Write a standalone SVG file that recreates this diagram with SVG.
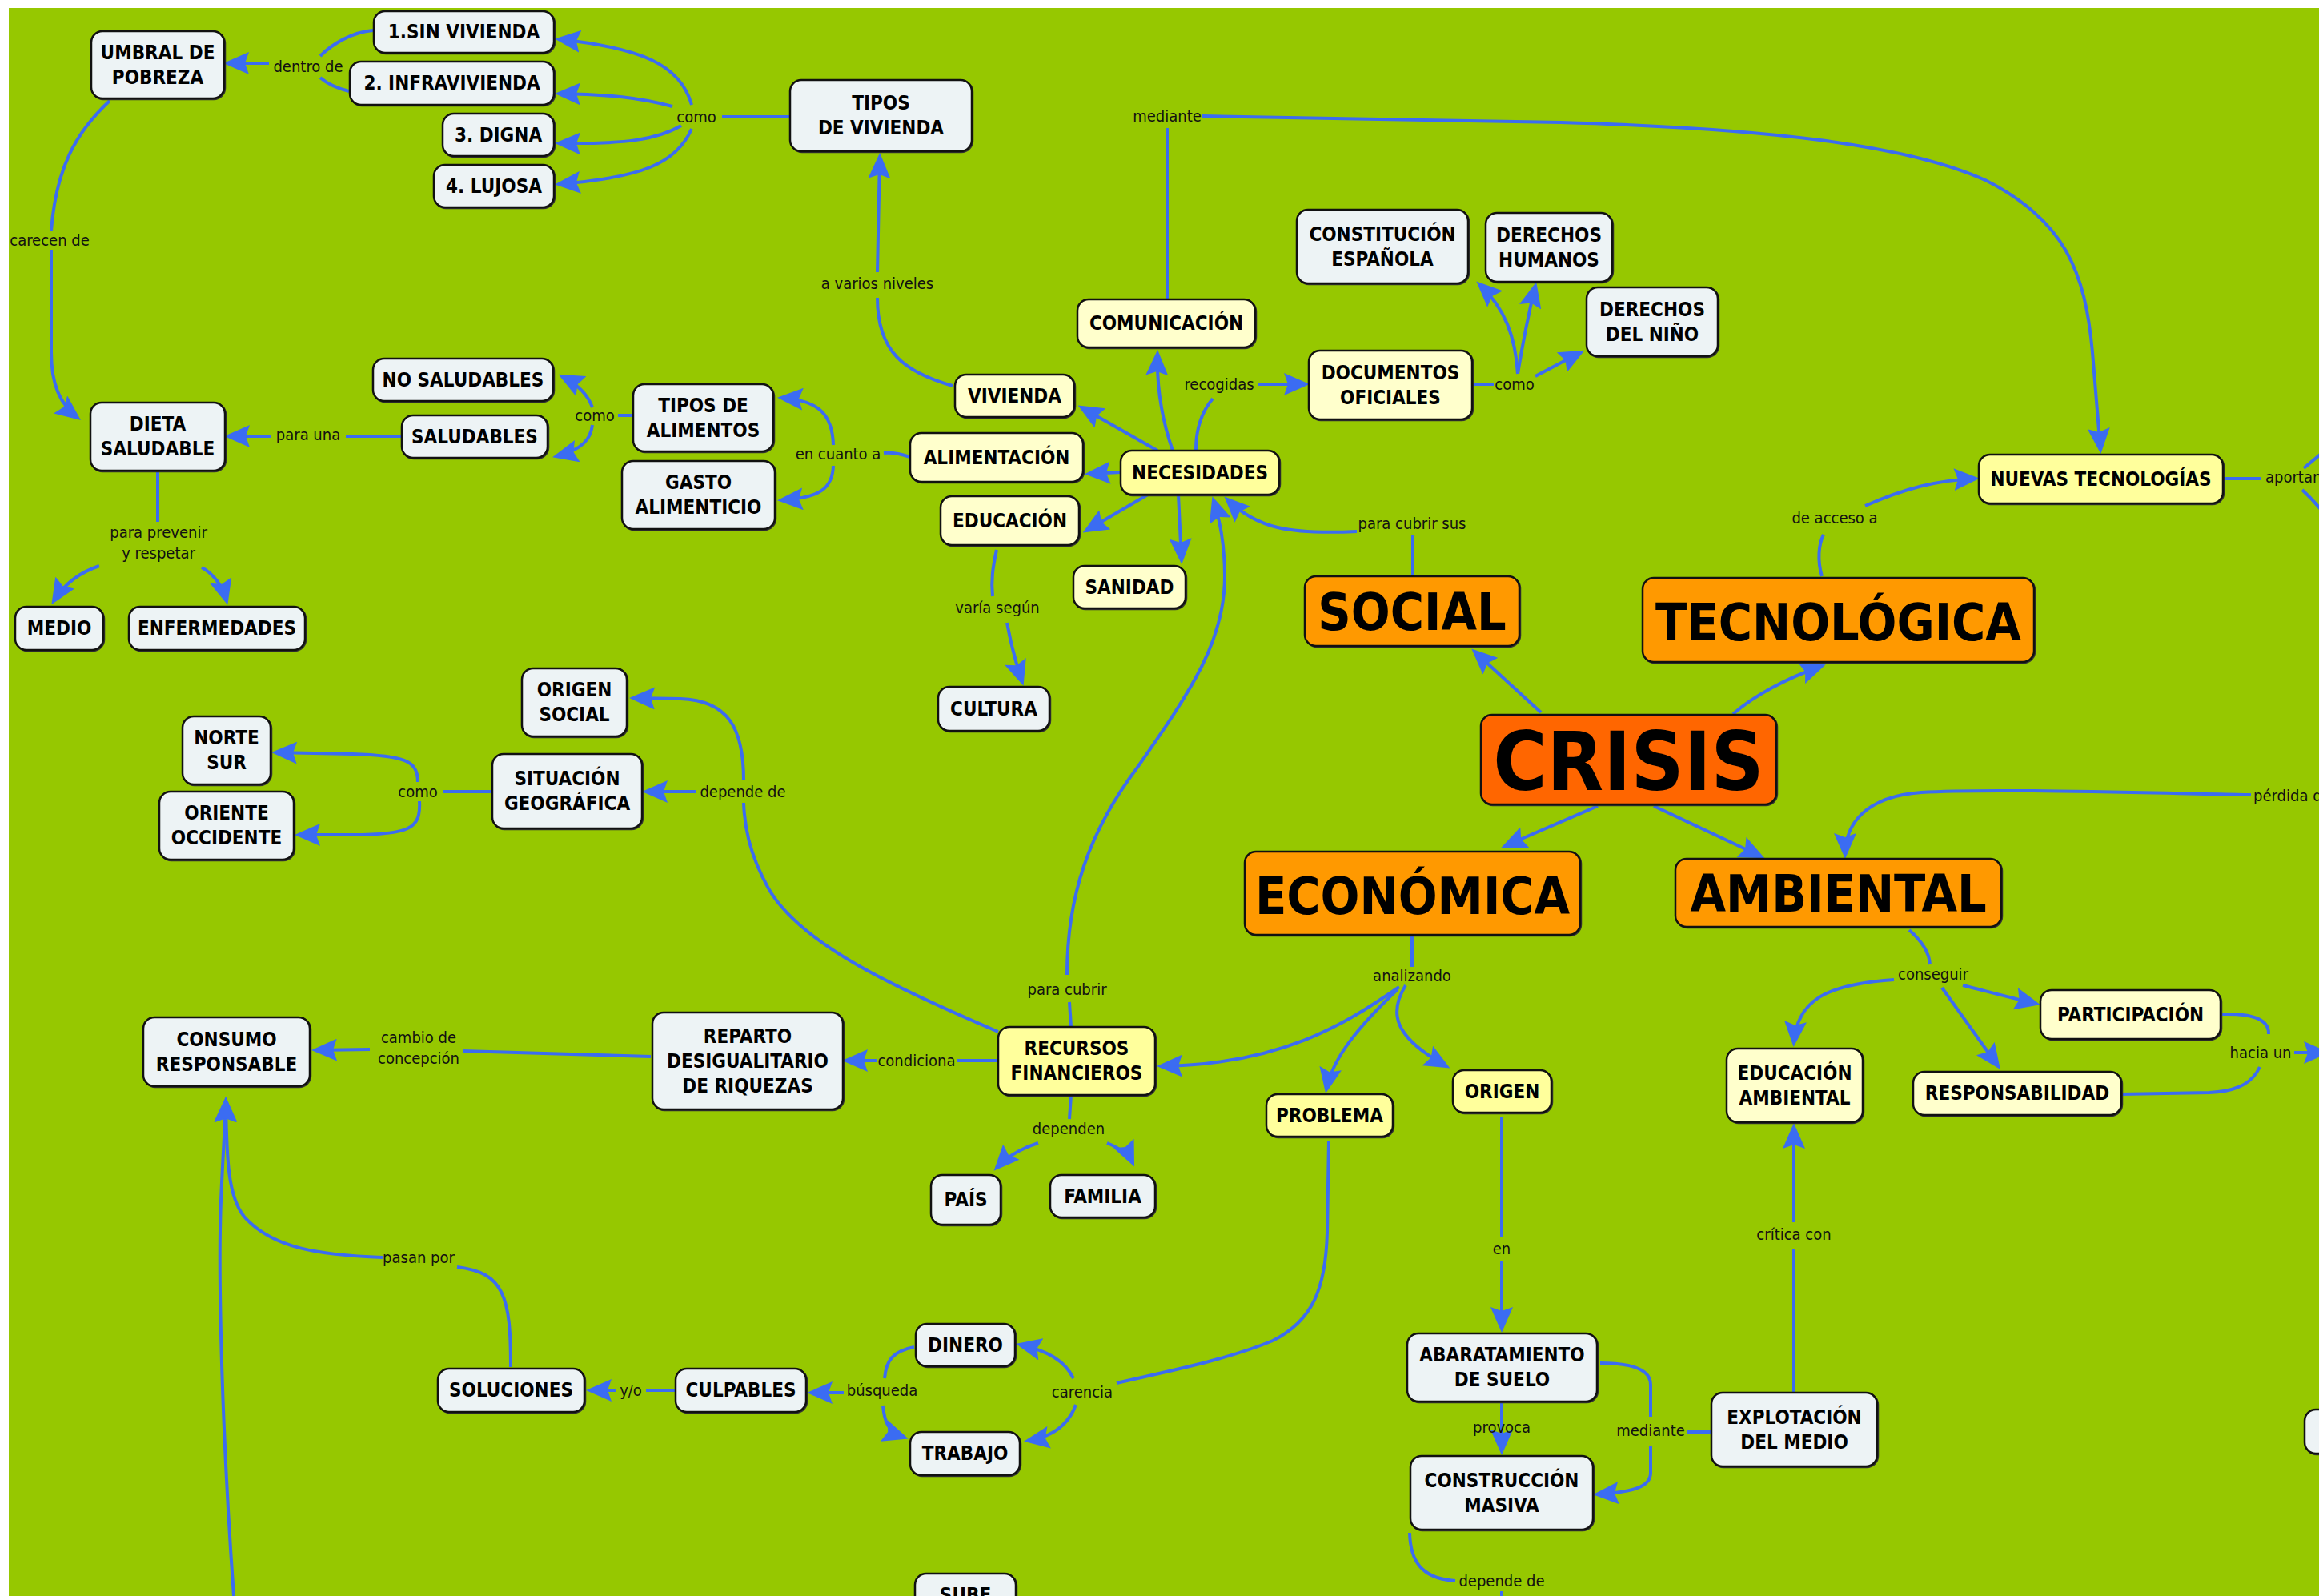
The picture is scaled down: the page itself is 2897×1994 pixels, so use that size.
<svg xmlns="http://www.w3.org/2000/svg" width="2897" height="1994" viewBox="0 0 2897 1994">
<defs>
<marker id="ah" markerUnits="userSpaceOnUse" markerWidth="32" markerHeight="28" viewBox="0 0 32 28" refX="27" refY="14" orient="auto">
<path d="M0,0 L32,14 L0,28 L5,14 z" fill="#3b6cf2"/>
</marker>
<style>
.c{fill:none;stroke:#3b6cf2;stroke-width:4;stroke-linecap:butt}
.a{marker-end:url(#ah)}
.b{stroke:#111;stroke-width:2.5;filter:drop-shadow(1px 1.5px 0 #333)}
.g{fill:#edf3f5}
.y{fill:#ffffcc}
.yy{fill:#ffff9c}
.o{fill:#ff9900}
.r{fill:#ff6600}
.t{font-family:"DejaVu Sans Condensed","DejaVu Sans",sans-serif;font-stretch:condensed;font-weight:bold;font-size:24px;text-anchor:middle;dominant-baseline:central;fill:#000}
.big{font-size:64px}
.huge{font-size:102px}
.l{font-family:"DejaVu Sans Condensed","DejaVu Sans",sans-serif;font-stretch:condensed;font-size:20px;text-anchor:middle;dominant-baseline:central;fill:#111}
.ls{text-anchor:start}
</style>
</defs>
<rect x="0" y="0" width="2897" height="1994" fill="#ffffff"/>
<rect x="11" y="10" width="2886" height="1984" fill="#96c800"/>

<g id="connectors">
<!-- dentro de -->
<path class="c" d="M466,38 C440,40 415,55 400,70"/>
<path class="c" d="M436,114 C420,110 408,104 400,97"/>
<path class="c a" d="M336,79 L284,79"/>
<!-- como (tipos de vivienda) -->
<path class="c" d="M987,146 L902,146"/>
<path class="c a" d="M864,131 C850,80 800,60 698,49"/>
<path class="c a" d="M840,133 C800,122 760,118 698,117"/>
<path class="c a" d="M851,157 C820,175 780,180 698,179"/>
<path class="c a" d="M864,161 C845,205 800,222 698,230"/>
<!-- carecen de -->
<path class="c" d="M137,126 C95,165 70,210 64,288"/>
<path class="c a" d="M64,312 L64,440 C64,480 75,505 97,522"/>
<!-- para una -->
<path class="c" d="M502,545 L432,545"/>
<path class="c a" d="M338,545 L285,545"/>
<!-- como (alimentos) -->
<path class="c" d="M791,519 L772,519"/>
<path class="c a" d="M740,509 C735,495 725,482 702,470"/>
<path class="c a" d="M740,531 C738,548 728,562 695,570"/>
<!-- para prevenir y respetar -->
<path class="c" d="M197,590 L197,652"/>
<path class="c a" d="M124,707 C100,715 80,730 67,751"/>
<path class="c a" d="M252,709 C268,718 278,733 283,751"/>
<!-- a varios niveles -->
<path class="c" d="M1190,482 C1130,465 1096,440 1096,372"/>
<path class="c a" d="M1096,340 L1099,196"/>
<!-- en cuanto a -->
<path class="c" d="M1137,571 C1125,567 1115,565 1104,566"/>
<path class="c a" d="M1041,556 C1040,520 1025,500 976,497"/>
<path class="c a" d="M1041,582 C1040,610 1025,622 976,625"/>
<!-- necesidades -->
<path class="c a" d="M1446,563 L1351,509"/>
<path class="c a" d="M1400,590 L1360,592"/>
<path class="c a" d="M1434,618 L1357,663"/>
<path class="c a" d="M1465,563 C1450,520 1445,480 1446,442"/>
<path class="c a" d="M1472,618 L1476,700"/>
<path class="c" d="M1494,562 C1494,530 1505,510 1515,498"/>
<path class="c a" d="M1571,480 L1631,480"/>
<!-- como (documentos) -->
<path class="c" d="M1839,480 L1866,480"/>
<path class="c a" d="M1896,467 C1893,420 1880,385 1848,355"/>
<path class="c a" d="M1896,467 C1902,430 1910,390 1918,357"/>
<path class="c a" d="M1918,470 L1975,440"/>
<!-- mediante (comunicación) -->
<path class="c" d="M1458,374 L1458,160"/>
<path class="c a" d="M1502,145 L1950,153 C2200,160 2380,180 2480,225 C2580,275 2605,340 2614,440 L2624,562"/>
<!-- para cubrir sus -->
<path class="c" d="M1765,720 L1765,668"/>
<path class="c a" d="M1695,664 C1610,668 1570,660 1533,624"/>
<!-- varía según -->
<path class="c" d="M1245,687 C1240,710 1238,725 1240,745"/>
<path class="c a" d="M1258,778 C1262,800 1268,825 1277,852"/>
<!-- para cubrir -->
<path class="c" d="M1338,1283 L1336,1252"/>
<path class="c a" d="M1333,1218 C1333,1120 1360,1040 1420,960 C1490,860 1530,800 1530,720 C1530,680 1524,650 1516,625"/>
<!-- crisis -->
<path class="c a" d="M1925,890 L1842,814"/>
<path class="c a" d="M2165,892 C2190,870 2230,848 2276,832"/>
<path class="c a" d="M1996,1007 L1880,1057"/>
<path class="c a" d="M2066,1007 L2200,1070"/>
<!-- de acceso a -->
<path class="c" d="M2276,720 C2270,700 2272,680 2278,668"/>
<path class="c a" d="M2330,632 C2380,610 2420,600 2468,598"/>
<!-- aportan -->
<path class="c" d="M2777,598 L2824,598"/>
<path class="c" d="M2878,585 Q2890,575 2902,565"/>
<path class="c" d="M2876,612 Q2890,625 2902,640"/>
<!-- pérdida de -->
<path class="c a" d="M2812,993 C2650,990 2480,985 2400,990 C2330,995 2305,1030 2305,1068"/>
<!-- conseguir -->
<path class="c" d="M2385,1162 C2400,1175 2410,1190 2411,1205"/>
<path class="c a" d="M2366,1224 C2280,1230 2245,1250 2241,1303"/>
<path class="c a" d="M2452,1231 C2480,1238 2510,1246 2544,1254"/>
<path class="c a" d="M2426,1234 L2496,1332"/>
<!-- hacia un -->
<path class="c" d="M2776,1267 C2810,1266 2835,1272 2834,1292"/>
<path class="c" d="M2650,1367 L2760,1365 C2800,1363 2815,1350 2823,1333"/>
<path class="c a" d="M2866,1315 L2905,1315"/>
<!-- crítica con -->
<path class="c" d="M2241,1740 L2241,1560"/>
<path class="c a" d="M2241,1527 L2241,1408"/>
<!-- mediante (explotación) -->
<path class="c" d="M2138,1789 L2108,1789"/>
<path class="c" d="M2062,1770 L2062,1730 C2062,1712 2040,1703 1999,1703"/>
<path class="c a" d="M2062,1806 L2062,1840 C2062,1858 2040,1864 1995,1867"/>
<!-- analizando -->
<path class="c" d="M1764,1168 L1764,1208"/>
<path class="c a" d="M1748,1233 C1680,1280 1600,1330 1450,1332"/>
<path class="c a" d="M1746,1236 C1700,1280 1665,1320 1657,1361"/>
<path class="c a" d="M1756,1231 C1735,1265 1740,1295 1807,1332"/>
<!-- condiciona -->
<path class="c" d="M1247,1325 L1196,1325"/>
<path class="c a" d="M1096,1325 L1057,1325"/>
<!-- cambio de concepción -->
<path class="c" d="M813,1320 L578,1313"/>
<path class="c a" d="M462,1311 L394,1312"/>
<!-- depende de (recursos) -->
<path class="c" d="M1247,1289 C1120,1235 1000,1180 960,1110 C935,1065 930,1030 929,1003"/>
<path class="c a" d="M929,975 C929,910 910,875 850,873 L791,872"/>
<path class="c a" d="M870,989 L807,989"/>
<!-- como (situación) -->
<path class="c" d="M615,989 L553,989"/>
<path class="c a" d="M522,977 C522,950 505,944 440,942 L344,940"/>
<path class="c a" d="M524,1001 C526,1035 512,1043 440,1043 L373,1043"/>
<!-- dependen -->
<path class="c" d="M1338,1368 L1336,1398"/>
<path class="c a" d="M1297,1428 C1275,1435 1258,1445 1245,1459"/>
<path class="c a" d="M1383,1428 C1398,1434 1410,1442 1415,1453"/>
<!-- en -->
<path class="c" d="M1876,1395 L1876,1545"/>
<path class="c a" d="M1876,1575 L1876,1660"/>
<!-- provoca -->
<path class="c a" d="M1876,1753 L1876,1813"/>
<!-- depende de (construcción) -->
<path class="c" d="M1761,1915 C1762,1950 1775,1972 1818,1975"/>
<path class="c" d="M1876,1988 L1876,2000"/>
<!-- carencia -->
<path class="c" d="M1660,1426 L1658,1540 C1656,1610 1640,1650 1590,1675 C1530,1700 1450,1715 1395,1728"/>
<path class="c a" d="M1341,1722 C1330,1700 1310,1688 1274,1680"/>
<path class="c a" d="M1344,1755 C1335,1780 1315,1795 1284,1800"/>
<!-- búsqueda -->
<path class="c" d="M1142,1683 C1115,1688 1107,1700 1105,1722"/>
<path class="c a" d="M1103,1756 C1105,1780 1112,1790 1130,1796"/>
<path class="c a" d="M1054,1740 L1013,1740"/>
<!-- y/o -->
<path class="c" d="M843,1737 L807,1737"/>
<path class="c a" d="M770,1737 L737,1737"/>
<!-- pasan por -->
<path class="c" d="M638,1708 C638,1620 630,1590 571,1583"/>
<path class="c a" d="M478,1571 C400,1568 340,1560 305,1520 C285,1495 283,1450 282,1375"/>
<path class="c a" d="M292,1994 C278,1800 272,1600 276,1500 C278,1450 281,1410 282,1375"/>
</g>

<g id="link-labels">
<text class="l" x="385" y="83">dentro de</text>
<text class="l" x="870" y="146">como</text>
<text class="l" x="62" y="300">carecen de</text>
<text class="l" x="385" y="543">para una</text>
<text class="l" x="743" y="519">como</text>
<text class="l" x="198" y="665">para prevenir</text>
<text class="l" x="198" y="691">y respetar</text>
<text class="l" x="1096" y="354">a varios niveles</text>
<text class="l" x="1458" y="145">mediante</text>
<text class="l" x="1047" y="567">en cuanto a</text>
<text class="l" x="1523" y="480">recogidas</text>
<text class="l" x="1892" y="480">como</text>
<text class="l" x="1764" y="654">para cubrir sus</text>
<text class="l" x="1246" y="759">varía según</text>
<text class="l" x="1333" y="1236">para cubrir</text>
<text class="l" x="2292" y="647">de acceso a</text>
<text class="l ls" x="2830" y="596">aportan</text>
<text class="l ls" x="2815" y="994">pérdida de</text>
<text class="l" x="2415" y="1217">conseguir</text>
<text class="l" x="2824" y="1315">hacia un</text>
<text class="l" x="2241" y="1542">crítica con</text>
<text class="l" x="2062" y="1787">mediante</text>
<text class="l" x="1764" y="1219">analizando</text>
<text class="l" x="1145" y="1325">condiciona</text>
<text class="l" x="523" y="1296">cambio de</text>
<text class="l" x="523" y="1322">concepción</text>
<text class="l" x="928" y="989">depende de</text>
<text class="l" x="522" y="989">como</text>
<text class="l" x="1335" y="1410">dependen</text>
<text class="l" x="1876" y="1560">en</text>
<text class="l" x="1876" y="1783">provoca</text>
<text class="l" x="1876" y="1975">depende de</text>
<text class="l" x="1352" y="1739">carencia</text>
<text class="l" x="1102" y="1737">búsqueda</text>
<text class="l" x="788" y="1737">y/o</text>
<text class="l" x="523" y="1571">pasan por</text>
</g>

<g id="umbral"><rect class="b g" x="114" y="39" width="166" height="84" rx="14"/><text class="t" x="197"><tspan x="197" y="65.5">UMBRAL DE</tspan><tspan x="197" y="96.5">POBREZA</tspan></text></g>
<g id="sin-vivienda"><rect class="b g" x="467" y="14" width="225" height="52" rx="14"/><text class="t" x="579.5" y="40">1.SIN VIVIENDA</text></g>
<g id="infravivienda"><rect class="b g" x="437" y="77" width="255" height="54" rx="14"/><text class="t" x="564.5" y="104">2. INFRAVIVIENDA</text></g>
<g id="digna"><rect class="b g" x="553" y="142" width="139" height="53" rx="14"/><text class="t" x="622.5" y="168.5">3. DIGNA</text></g>
<g id="lujosa"><rect class="b g" x="542" y="206" width="150" height="53" rx="14"/><text class="t" x="617" y="232.5">4. LUJOSA</text></g>
<g id="tipos-vivienda"><rect class="b g" x="987" y="100" width="227" height="89" rx="14"/><text class="t"><tspan x="1100.5" y="129">TIPOS</tspan><tspan x="1100.5" y="160">DE VIVIENDA</tspan></text></g>
<g id="comunicacion"><rect class="b y" x="1346" y="374" width="222" height="60" rx="14"/><text class="t" x="1457" y="404">COMUNICACIÓN</text></g>
<g id="constitucion"><rect class="b g" x="1620" y="262" width="214" height="92" rx="14"/><text class="t"><tspan x="1727" y="292.5">CONSTITUCIÓN</tspan><tspan x="1727" y="323.5">ESPAÑOLA</tspan></text></g>
<g id="derechos-humanos"><rect class="b g" x="1856" y="266" width="158" height="86" rx="14"/><text class="t"><tspan x="1935" y="293.5">DERECHOS</tspan><tspan x="1935" y="324.5">HUMANOS</tspan></text></g>
<g id="derechos-nino"><rect class="b g" x="1982" y="359" width="164" height="86" rx="14"/><text class="t"><tspan x="2064" y="386.5">DERECHOS</tspan><tspan x="2064" y="417.5">DEL NIÑO</tspan></text></g>
<g id="documentos"><rect class="b y" x="1635" y="438" width="204" height="86" rx="14"/><text class="t"><tspan x="1737" y="465.5">DOCUMENTOS</tspan><tspan x="1737" y="496.5">OFICIALES</tspan></text></g>
<g id="vivienda"><rect class="b y" x="1193" y="468" width="149" height="53" rx="14"/><text class="t" x="1267.5" y="494.5">VIVIENDA</text></g>
<g id="alimentacion"><rect class="b y" x="1137" y="541" width="216" height="61" rx="14"/><text class="t" x="1245" y="571.5">ALIMENTACIÓN</text></g>
<g id="necesidades"><rect class="b yy" x="1400" y="563" width="198" height="55" rx="14"/><text class="t" x="1499" y="590.5">NECESIDADES</text></g>
<g id="educacion"><rect class="b y" x="1175" y="620" width="173" height="61" rx="14"/><text class="t" x="1261.5" y="650.5">EDUCACIÓN</text></g>
<g id="sanidad"><rect class="b y" x="1341" y="707" width="140" height="53" rx="14"/><text class="t" x="1411" y="733.5">SANIDAD</text></g>
<g id="cultura"><rect class="b g" x="1172" y="858" width="139" height="55" rx="14"/><text class="t" x="1241.5" y="885.5">CULTURA</text></g>
<g id="no-saludables"><rect class="b g" x="466" y="448" width="225" height="53" rx="14"/><text class="t" x="578.5" y="474.5">NO SALUDABLES</text></g>
<g id="saludables"><rect class="b g" x="502" y="519" width="182" height="53" rx="14"/><text class="t" x="593" y="545.5">SALUDABLES</text></g>
<g id="dieta"><rect class="b g" x="113" y="503" width="168" height="85" rx="14"/><text class="t"><tspan x="197" y="530">DIETA</tspan><tspan x="197" y="561">SALUDABLE</tspan></text></g>
<g id="tipos-alimentos"><rect class="b g" x="791" y="480" width="175" height="84" rx="14"/><text class="t"><tspan x="878.5" y="506.5">TIPOS DE</tspan><tspan x="878.5" y="537.5">ALIMENTOS</tspan></text></g>
<g id="gasto"><rect class="b g" x="777" y="576" width="191" height="85" rx="14"/><text class="t"><tspan x="872.5" y="603">GASTO</tspan><tspan x="872.5" y="634">ALIMENTICIO</tspan></text></g>
<g id="medio"><rect class="b g" x="19" y="758" width="110" height="54" rx="14"/><text class="t" x="74" y="785">MEDIO</text></g>
<g id="enfermedades"><rect class="b g" x="161" y="758" width="220" height="54" rx="14"/><text class="t" x="271" y="785">ENFERMEDADES</text></g>
<g id="origen-social"><rect class="b g" x="652" y="835" width="131" height="85" rx="14"/><text class="t"><tspan x="717.5" y="862">ORIGEN</tspan><tspan x="717.5" y="893">SOCIAL</tspan></text></g>
<g id="norte-sur"><rect class="b g" x="228" y="895" width="110" height="85" rx="14"/><text class="t"><tspan x="283" y="922">NORTE</tspan><tspan x="283" y="953">SUR</tspan></text></g>
<g id="situacion"><rect class="b g" x="615" y="942" width="187" height="93" rx="14"/><text class="t"><tspan x="708.5" y="973">SITUACIÓN</tspan><tspan x="708.5" y="1004">GEOGRÁFICA</tspan></text></g>
<g id="oriente"><rect class="b g" x="199" y="989" width="168" height="85" rx="14"/><text class="t"><tspan x="283" y="1016">ORIENTE</tspan><tspan x="283" y="1047">OCCIDENTE</tspan></text></g>
<g id="consumo"><rect class="b g" x="179" y="1271" width="208" height="86" rx="14"/><text class="t"><tspan x="283" y="1298.5">CONSUMO</tspan><tspan x="283" y="1329.5">RESPONSABLE</tspan></text></g>
<g id="reparto"><rect class="b g" x="815" y="1265" width="238" height="121" rx="14"/><text class="t"><tspan x="934" y="1294.5">REPARTO</tspan><tspan x="934" y="1325.5">DESIGUALITARIO</tspan><tspan x="934" y="1356.5">DE RIQUEZAS</tspan></text></g>
<g id="recursos"><rect class="b yy" x="1247" y="1283" width="196" height="85" rx="14"/><text class="t"><tspan x="1345" y="1310">RECURSOS</tspan><tspan x="1345" y="1341">FINANCIEROS</tspan></text></g>
<g id="pais"><rect class="b g" x="1163" y="1468" width="87" height="62" rx="14"/><text class="t" x="1206.5" y="1499">PAÍS</text></g>
<g id="familia"><rect class="b g" x="1312" y="1468" width="131" height="53" rx="14"/><text class="t" x="1377.5" y="1494.5">FAMILIA</text></g>
<g id="social"><rect class="b o" x="1630" y="720" width="268" height="87" rx="14"/><text class="t big" x="1764" y="765">SOCIAL</text></g>
<g id="tecnologica"><rect class="b o" x="2052" y="722" width="489" height="105" rx="14"/><text class="t big" x="2296.5" y="778">TECNOLÓGICA</text></g>
<g id="crisis"><rect class="b r" x="1850" y="893" width="369" height="112" rx="14"/><text class="t huge" x="2034.5" y="951">CRISIS</text></g>
<g id="economica"><rect class="b o" x="1555" y="1064" width="419" height="104" rx="14"/><text class="t big" x="1764.5" y="1120">ECONÓMICA</text></g>
<g id="ambiental"><rect class="b o" x="2093" y="1073" width="407" height="85" rx="14"/><text class="t big" x="2296.5" y="1117">AMBIENTAL</text></g>
<g id="nuevas-tecnologias"><rect class="b yy" x="2472" y="568" width="305" height="61" rx="14"/><text class="t" x="2624.5" y="598.5">NUEVAS TECNOLOGÍAS</text></g>
<g id="origen"><rect class="b yy" x="1815" y="1337" width="123" height="53" rx="14"/><text class="t" x="1876.5" y="1363.5">ORIGEN</text></g>
<g id="problema"><rect class="b yy" x="1582" y="1367" width="158" height="53" rx="14"/><text class="t" x="1661" y="1393.5">PROBLEMA</text></g>
<g id="educacion-ambiental"><rect class="b y" x="2157" y="1310" width="170" height="92" rx="14"/><text class="t"><tspan x="2242" y="1340.5">EDUCACIÓN</tspan><tspan x="2242" y="1371.5">AMBIENTAL</tspan></text></g>
<g id="participacion"><rect class="b y" x="2549" y="1237" width="225" height="61" rx="14"/><text class="t" x="2661.5" y="1267.5">PARTICIPACIÓN</text></g>
<g id="responsabilidad"><rect class="b y" x="2390" y="1339" width="260" height="54" rx="14"/><text class="t" x="2520" y="1366">RESPONSABILIDAD</text></g>
<g id="abaratamiento"><rect class="b g" x="1758" y="1666" width="237" height="85" rx="14"/><text class="t"><tspan x="1876.5" y="1693">ABARATAMIENTO</tspan><tspan x="1876.5" y="1724">DE SUELO</tspan></text></g>
<g id="construccion"><rect class="b g" x="1762" y="1819" width="228" height="92" rx="14"/><text class="t"><tspan x="1876" y="1849.5">CONSTRUCCIÓN</tspan><tspan x="1876" y="1880.5">MASIVA</tspan></text></g>
<g id="explotacion"><rect class="b g" x="2138" y="1740" width="207" height="92" rx="14"/><text class="t"><tspan x="2241.5" y="1770.5">EXPLOTACIÓN</tspan><tspan x="2241.5" y="1801.5">DEL MEDIO</tspan></text></g>
<g id="dinero"><rect class="b g" x="1144" y="1654" width="124" height="53" rx="14"/><text class="t" x="1206" y="1680.5">DINERO</text></g>
<g id="trabajo"><rect class="b g" x="1137" y="1789" width="137" height="54" rx="14"/><text class="t" x="1205.5" y="1816">TRABAJO</text></g>
<g id="soluciones"><rect class="b g" x="547" y="1710" width="183" height="54" rx="14"/><text class="t" x="638.5" y="1737">SOLUCIONES</text></g>
<g id="culpables"><rect class="b g" x="844" y="1710" width="163" height="54" rx="14"/><text class="t" x="925.5" y="1737">CULPABLES</text></g>
<g id="sube"><rect class="b g" x="1143" y="1966" width="126" height="60" rx="14"/><text class="t" x="1206" y="1993">SUBE</text></g>
<g id="edge-node"><rect class="b g" x="2879" y="1761" width="60" height="55" rx="14"/></g>
</svg>
